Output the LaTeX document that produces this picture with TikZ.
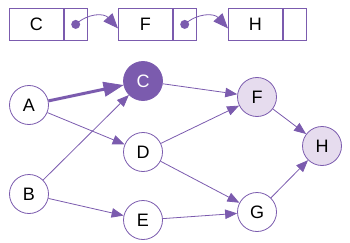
\documentclass[tikz,border=0pt]{standalone}
\usepackage{fontspec}
\setmainfont{Liberation Sans}
\usetikzlibrary{arrows.meta}
\definecolor{pur}{HTML}{7B5BAE}
\definecolor{lpur}{HTML}{E6DCEE}
\begin{document}
\begin{tikzpicture}[x=1pt,y=-1pt,
  vtx/.style={circle,draw=pur,line width=0.8pt,fill=white,minimum size=39pt,inner sep=0pt,font=\fontsize{18}{18}\selectfont},
  hot/.style={vtx,fill=pur,text=white},
  lit/.style={vtx,fill=lpur},
  cell/.style={draw=pur,line width=0.8pt,minimum height=32pt,inner sep=0pt,font=\fontsize{18}{18}\selectfont},
  edge/.style={pur,line width=0.8pt,-{Triangle[length=12pt,width=9.5pt]}},
  link/.style={pur,line width=0.8pt,-{Triangle[length=15pt,width=12pt]}},
  dotc/.style={circle,fill=pur,inner sep=0pt,minimum size=9pt}]
\useasboundingbox (0,0) rectangle (350,243);
% list
\foreach \n/\x/\t in {1/9/C,2/118/F,3/228/H}{
  \node[cell,minimum width=54pt,anchor=north west] (k\n) at (\x,8) {\t};
  \node[cell,minimum width=23pt,anchor=north west] (p\n) at (k\n.north east) {};
}
\node[dotc] (d1) at (p1.center) {};
\node[dotc] (d2) at (p2.center) {};
\draw[link] (d1.center) .. controls (88,13) and (104,13) .. ([yshift=-4pt]k2.west);
\draw[link] (d2.center) .. controls (197,13) and (214,13) .. ([yshift=-4pt]k3.west);
% graph
\node[vtx] (A) at (29,105) {A};
\node[vtx] (B) at (29,194) {B};
\node[hot] (C) at (143,81) {C};
\node[vtx] (D) at (143,152) {D};
\node[vtx] (E) at (143,220) {E};
\node[lit] (F) at (257,97) {F};
\node[vtx] (G) at (257,212) {G};
\node[lit] (H) at (322,146) {H};
\draw[pur,line width=3pt,shorten >=12pt] (A) -- (C);
\draw[pur,line width=0.8pt,-{Triangle[length=20pt,width=15pt]}] (A) -- (C);
\draw[edge] (A) -- (D);
\draw[edge] (B) -- (C);
\draw[edge] (B) -- (E);
\draw[edge] (C) -- (F);
\draw[edge] (D) -- (F);
\draw[edge] (D) -- (G);
\draw[edge] (E) -- (G);
\draw[edge] (F) -- (H);
\draw[edge] (G) -- (H);
\end{tikzpicture}
\end{document}
